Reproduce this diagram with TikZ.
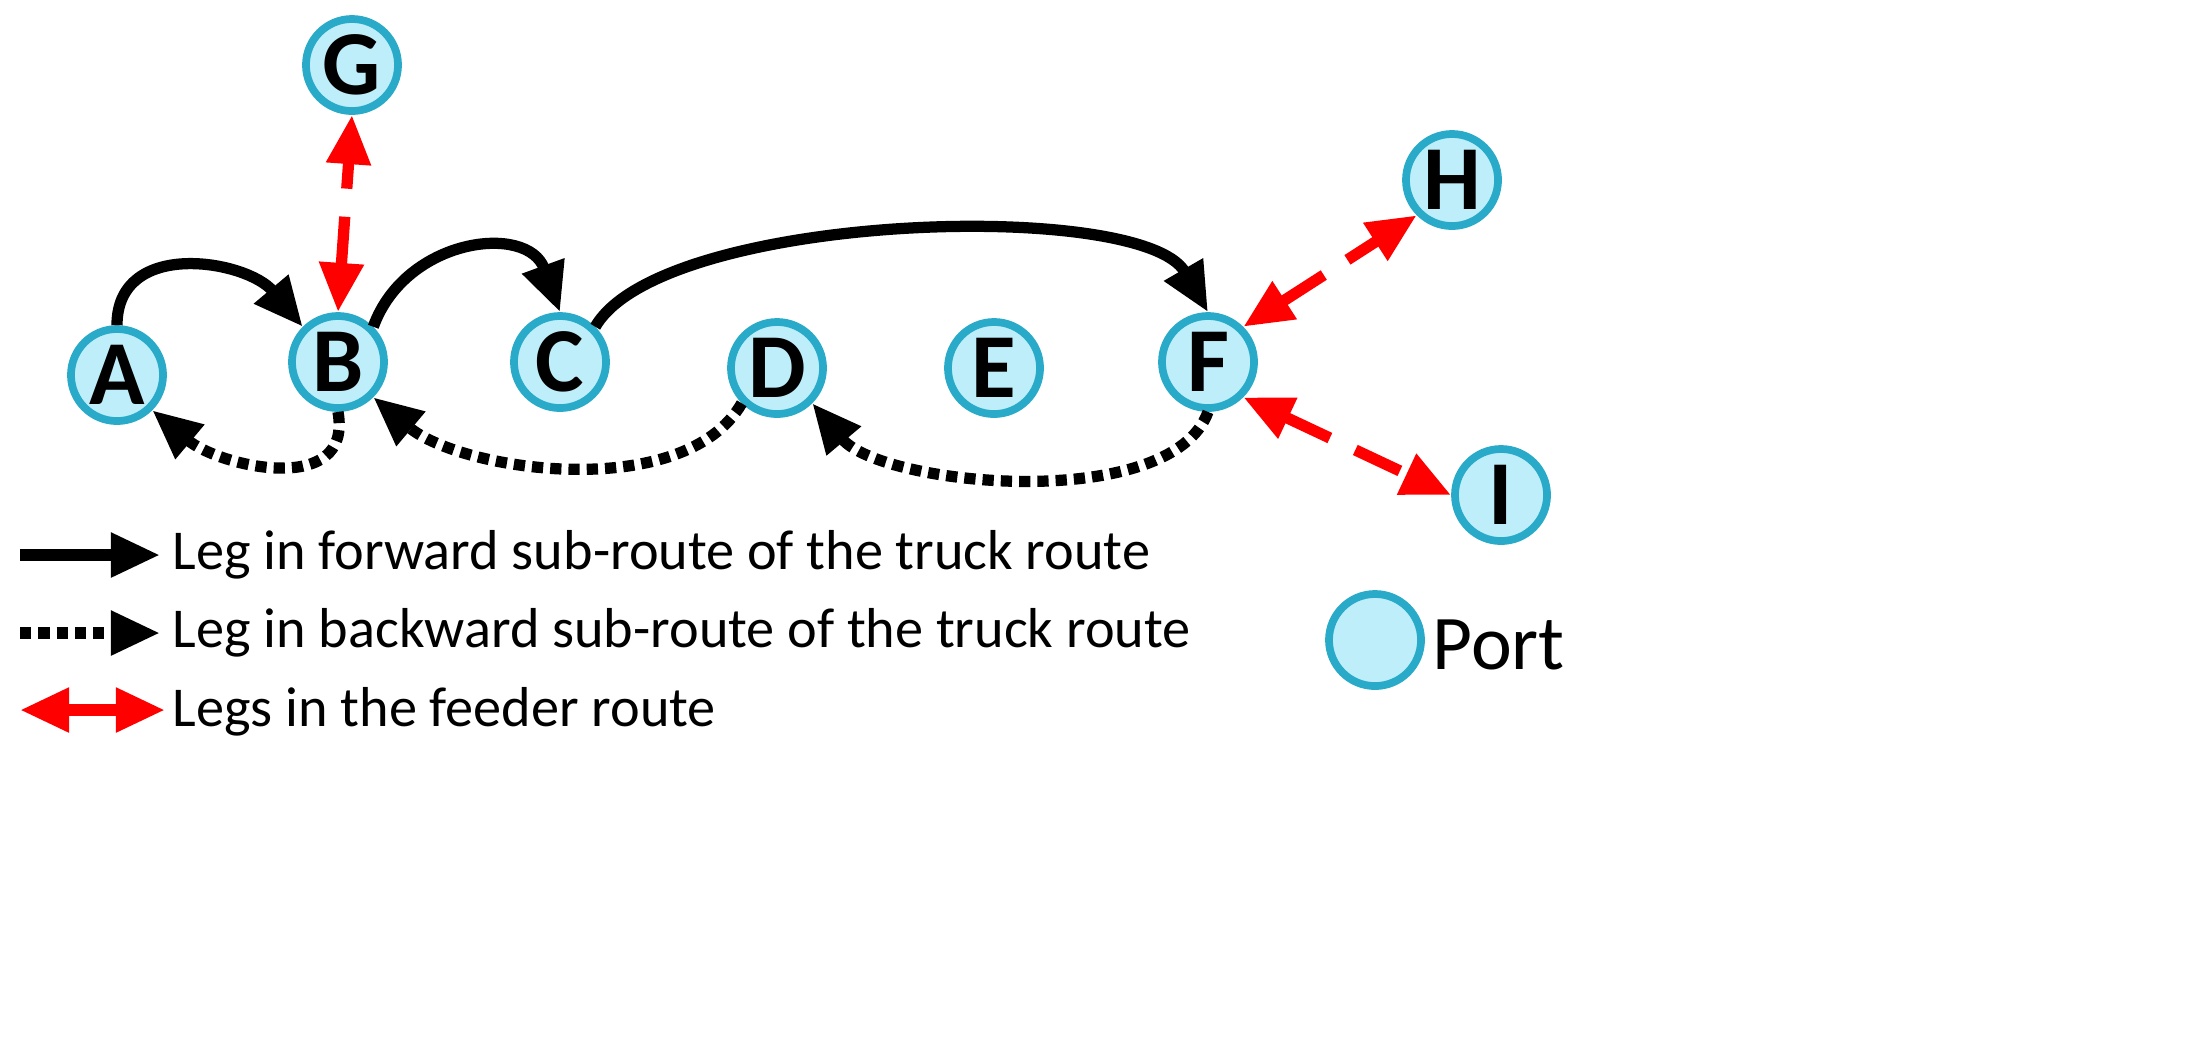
\documentclass[tikz,border=0pt]{standalone}
\usepackage{fontspec}
\setmainfont{Carlito}
\usetikzlibrary{arrows.meta}
\definecolor{portfill}{RGB}{190,238,250}
\definecolor{portedge}{RGB}{40,170,200}
\begin{document}
\begin{tikzpicture}[x=0.01cm,y=-0.01cm,
  port/.style={circle,draw=portedge,line width=2.2pt,inner sep=0pt,minimum size=0.92cm,
    fill=portfill,font=\fontsize{26}{26}\selectfont\bfseries},
  fwd/.style={line width=3.2pt,-{Triangle[length=14pt,width=12pt]}},
  bwd/.style={line width=3.2pt,dotted,-{Triangle[length=14pt,width=12pt]}},
  feed/.style={line width=3.2pt,red,dash pattern=on 14pt off 8pt,{Triangle[length=14pt,width=12pt]}-{Triangle[length=14pt,width=12pt]}},
  lab/.style={anchor=west,font=\fontsize{16}{16}\selectfont,inner sep=0pt}]
\useasboundingbox (0,0) rectangle (2198,1059);
\node[port] (A) at (117,375) {A};
\node[port] (B) at (338,362) {B};
\node[port] (C) at (560,362) {C};
\node[port] (D) at (777,368) {D};
\node[port] (E) at (994,368) {E};
\node[port] (F) at (1208,362) {F};
\node[port] (G) at (352,65) {G};
\node[port] (H) at (1452,180) {H};
\node[port] (I) at (1501,495) {I};
\draw[fwd] (A.north) to[out=90,in=130,looseness=1.2] (B.north west);
\draw[fwd] (B.north east) to[out=70,in=110,looseness=1.3] (C.north);
\draw[fwd] (C.north east) to[out=60,in=120,looseness=0.55] (F.north);
\draw[bwd] (B.south) to[out=-80,in=-40,looseness=1.2] (A.south east);
\draw[bwd] (D.south west) to[out=-120,in=-40,looseness=0.8] (B.south east);
\draw[bwd] (F.south) to[out=-110,in=-50,looseness=0.7] (D.south east);
\draw[feed] (B.north) -- (G.south);
\draw[feed] (F.north east) -- (H.south west);
\draw[feed] (F.south east) -- (I.west);
\coordinate (l1a) at (20,555); \coordinate (l1b) at (160,555);
\coordinate (l2a) at (20,633); \coordinate (l2b) at (160,633);
\coordinate (l3a) at (20,710); \coordinate (l3b) at (165,710);
\draw[fwd] (l1a) -- (l1b);
\draw[bwd] (l2a) -- (l2b);
\draw[feed] (l3a) -- (l3b);
\node[lab] (t1) at (172,555) {Leg in forward sub-route of the truck route};
\node[lab] (t2) at (172,633) {Leg in backward sub-route of the truck route};
\node[lab] (t3) at (172,712) {Legs in the feeder route};
\node[port] (P) at (1375,640) {};
\node[lab,font=\fontsize{22}{22}\selectfont] (pt) at (1432,645) {Port};
\end{tikzpicture}
\end{document}
